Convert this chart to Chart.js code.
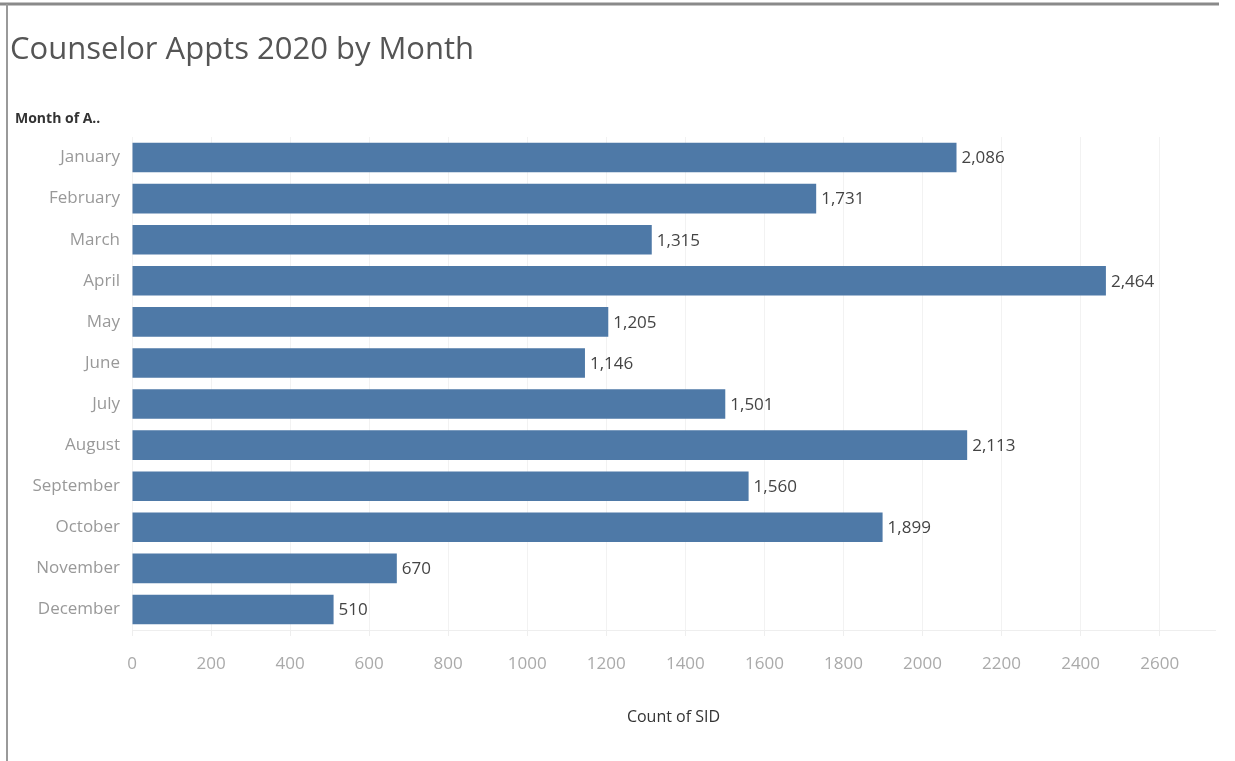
<!DOCTYPE html>
<html>
<head>
<meta charset="utf-8">
<script src="https://cdn.jsdelivr.net/npm/chart.js@4"></script>
<style>
html,body{margin:0;padding:0;background:#fff;}
#wrap{position:relative;width:1235px;height:761px;}
</style>
</head>
<body>
<div id="wrap"><canvas id="c" width="1235" height="761"></canvas></div>
<script>
const months = ["January","February","March","April","May","June","July","August","September","October","November","December"];
const counts = [2086,1731,1315,2464,1205,1146,1501,2113,1560,1899,670,510];
const xTicks = [0,200,400,600,800,1000,1200,1400,1600,1800,2000,2200,2400,2600];
const chartTitle = "Counselor Appts 2020 by Month";
const rowHeader = "Month of A..";
const xTitle = "Count of SID";

const FONT = "'Open Sans', sans-serif";

const decor = {
  id: 'decor',
  beforeDraw(chart) {
    const ctx = chart.ctx;
    ctx.save();
    ctx.fillStyle = '#fff';
    ctx.fillRect(0,0,chart.width,chart.height);
    ctx.restore();
  },
  afterDraw(chart) {
    const ctx = chart.ctx;
    ctx.save();
    ctx.strokeStyle = '#8a8a8a';
    ctx.lineWidth = 3;
    ctx.beginPath(); ctx.moveTo(0,4); ctx.lineTo(1219,4); ctx.stroke();
    ctx.strokeStyle = '#9a9a9a';
    ctx.lineWidth = 2;
    ctx.beginPath(); ctx.moveTo(7,4); ctx.lineTo(7,761); ctx.stroke();
    ctx.fillStyle = '#555';
    ctx.font = "31px " + FONT;
    ctx.textBaseline = 'middle';
    ctx.textAlign = 'left';
    ctx.fillText(chartTitle, 10, 50);
    ctx.fillStyle = '#333';
    ctx.font = "bold 14px " + FONT;
    ctx.fillText(rowHeader, 15, 119);
    const meta = chart.getDatasetMeta(0);
    ctx.fillStyle = '#444';
    ctx.font = "17px " + FONT;
    meta.data.forEach((bar, i) => {
      ctx.fillText(counts[i].toLocaleString('en-US'), bar.x + 5, bar.y + 1);
    });
    ctx.restore();
  }
};

new Chart(document.getElementById('c'), {
  type: 'bar',
  data: {
    labels: months,
    datasets: [{
      data: counts,
      backgroundColor: '#4e79a7',
      borderWidth: 0,
      barPercentage: 0.72,
      categoryPercentage: 1.0
    }]
  },
  options: {
    indexAxis: 'y',
    responsive: false,
    animation: false,
    layout: { padding: { top: 137, right: 20, left: 0, bottom: 0 } },
    plugins: { legend: { display: false }, tooltip: { enabled: false }, title: { display: false } },
    scales: {
      x: {
        min: 0,
        max: 2740,
        afterBuildTicks(axis) { axis.ticks = xTicks.map(v => ({ value: v })); },
        afterFit(axis) { axis.height = 131; },
        grid: { color: '#f2f2f2', drawTicks: true, tickLength: 6, tickColor: '#eee' },
        border: { display: true, color: '#eeeeee' },
        ticks: { color: '#aaa', font: { family: FONT, size: 17 }, padding: 18, maxRotation: 0, autoSkip: false,
                 callback: (v) => String(v) },
        title: { display: true, text: xTitle, color: '#333', font: { family: FONT, size: 16 }, padding: { top: 0, bottom: 34 } }
      },
      y: {
        afterFit(axis) { axis.width = 132; },
        grid: { display: false },
        border: { display: false },
        ticks: { color: '#999', font: { family: FONT, size: 17 }, padding: 4 }
      }
    }
  },
  plugins: [decor]
});
</script>
</body>
</html>
